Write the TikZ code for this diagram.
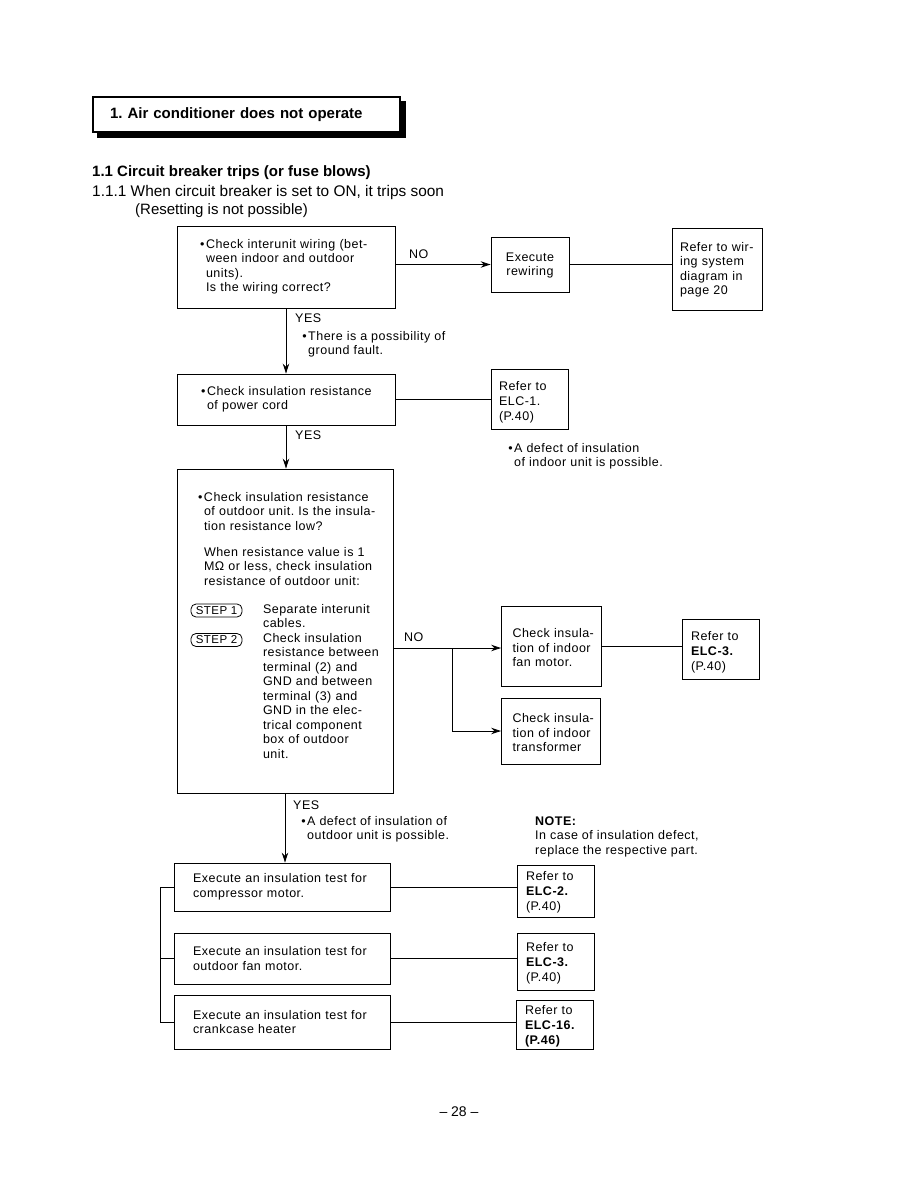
\documentclass[tikz,border=0pt]{standalone}
\usepackage{fontspec}
\setmainfont{Liberation Sans}
\newfontfamily\bodyfont[LetterSpace=4]{Liberation Sans}
\usetikzlibrary{arrows.meta,backgrounds}
\newcommand\bul{\llap{\textbullet\hspace{1.5pt}}}
\frenchspacing
\begin{document}
\begin{tikzpicture}[x=1pt,y=-1pt,
  box/.style={draw, line width=0.9pt, align=left, inner ysep=0pt, inner xsep=1pt,
    font=\bodyfont\fontsize{12.5}{14.5}\selectfont},
  bx/.style n args={3}{minimum width=#1pt, minimum height=#2pt, text width=#1pt-2pt,
    execute at begin node={\leftskip=#3pt\relax}},
  refbox/.style={font=\bodyfont\fontsize{12.5}{15}\selectfont},
  lbl/.style={inner sep=0pt, align=left, font=\bodyfont\fontsize{12.5}{14.5}\selectfont},
  stepbox/.style={draw, line width=0.8pt, rounded corners=5pt, minimum width=51pt,
    minimum height=13pt, inner sep=0pt, font=\bodyfont\fontsize{11.5}{12}\selectfont},
  link/.style={line width=0.8pt},
  arr/.style={line width=0.8pt, -{Stealth[length=10pt,width=6.5pt]}}]
\useasboundingbox (0,0) rectangle (918,1188);

% title
\node[draw, line width=1.2pt, fill=white, minimum width=307pt, minimum height=35pt,
  text width=273pt, inner xsep=17pt, align=left,
  font=\fontsize{15}{18}\selectfont\bfseries] (title) at (246.5,114.5)
  {1.\ Air conditioner does not operate};
\begin{scope}[on background layer]
\fill ([shift={(5,5)}]title.south west) rectangle ([shift={(5,5)}]title.north east);
\end{scope}

\node[anchor=west, inner sep=0pt, font=\fontsize{15}{17}\selectfont\bfseries] (h1) at (92,173)
  {1.1\ Circuit breaker trips (or fuse blows)};
\node[anchor=west, inner sep=0pt, font=\fontsize{15.4}{17}\selectfont] (h2) at (92,193)
  {1.1.1 When circuit breaker is set to ON, it trips soon};
\node[anchor=west, inner sep=0pt, font=\fontsize{15}{17}\selectfont] (h3) at (135,211)
  {(Resetting is not possible)};

% row 1
\node[box, bx={218}{82}{28}] (wiring) at (286,267)
  {\bul Check interunit wiring (bet-\\ween indoor and outdoor\\units).\\Is the wiring correct?};
\node[box, align=center, minimum width=78pt, minimum height=55pt, text width=76pt, text height=10.5pt] (rewire) at (530,264.5)
  {Execute\\rewiring};
\node[box, bx={90}{82}{7}, text height=10.5pt] (refwiring) at (717,269)
  {Refer to wir-\\ing system\\diagram in\\page 20};
\node[lbl, anchor=west] (no1) at (409,254) {NO};
\draw[arr] (wiring.east |- rewire.west) -- (rewire.west);
\draw[link] (rewire.east) -- (rewire.east -| refwiring.west);

% row 2
\node[box, bx={218}{51}{29}] (cord) at (286,399.5)
  {\bul Check insulation resistance\\of power cord};
\node[box, refbox, bx={77}{60}{7}, text height=16.5pt] (elc1) at (529.5,399)
  {Refer to\\ELC-1.\\(P.40)};
\draw[arr] (wiring.south) -- (cord.north);
\node[lbl, anchor=west] (yes1) at (295,318) {YES};
\node[lbl, anchor=west] (ground) at (308,344.5) {\bul There is a possibility of\\ground fault.};
\draw[link] (cord.east) -- (cord.east -| elc1.west);
\node[lbl, anchor=west] (indoordef) at (514,456.5) {\bul A defect of insulation\\of indoor unit is possible.};

% row 3
\node[box, bx={216}{324}{26}] (outdoor) at (285,631)
  {\bul Check insulation resistance\\
   of outdoor unit. Is the insula-\\
   tion resistance low?\\[11.5pt]
   When resistance value is 1\\
   MΩ or less, check insulation\\
   resistance of outdoor unit:\\[13.5pt]
   \hspace*{59pt}Separate interunit\\
   \hspace*{59pt}cables.\\
   \hspace*{59pt}Check insulation\\
   \hspace*{59pt}resistance between\\
   \hspace*{59pt}terminal (2) and\\
   \hspace*{59pt}GND and between\\
   \hspace*{59pt}terminal (3) and\\
   \hspace*{59pt}GND in the elec-\\
   \hspace*{59pt}trical component\\
   \hspace*{59pt}box of outdoor\\
   \hspace*{59pt}unit.\\[-2.5pt]\mbox{}};
\node[stepbox] (step1) at (216.5,610.5) {STEP 1};
\node[stepbox] (step2) at (216.5,640) {STEP 2};
\draw[arr] (cord.south) -- (cord.south |- outdoor.north);
\node[lbl, anchor=west] (yes2) at (295,435) {YES};

\node[box, bx={100}{80}{10}, text height=13pt] (fanmotor) at (551.5,646)
  {Check insula-\\tion of indoor\\fan motor.};
\node[box, bx={99}{66}{10}, text height=13pt] (transformer) at (551,731)
  {Check insula-\\tion of indoor\\transformer};
\node[box, refbox, bx={77}{60}{8}, text height=15.5pt] (elc3a) at (720.5,649)
  {Refer to\\\textbf{ELC-3.}\\(P.40)};
\coordinate (nojunc) at (452,648);
\node[lbl, anchor=west] (no2) at (404,637) {NO};
\draw[link] (outdoor.east |- nojunc) -- (nojunc);
\draw[arr] (nojunc) -- (nojunc -| fanmotor.west);
\draw[arr] (nojunc) |- (transformer.west);
\draw[link] (fanmotor.east) -- (fanmotor.east -| elc3a.west);

% row 4
\node[box, bx={216}{48}{18}] (comp) at (282,887)
  {Execute an insulation test for\\compressor motor.};
\node[box, bx={216}{51}{18}] (ofan) at (282,958.5)
  {Execute an insulation test for\\outdoor fan motor.};
\node[box, bx={216}{54}{18}] (heater) at (282,1022)
  {Execute an insulation test for\\crankcase heater};
\node[box, refbox, bx={77}{52}{8}, text height=12pt] (elc2) at (555.5,891)
  {Refer to\\\textbf{ELC-2.}\\(P.40)};
\node[box, refbox, bx={77}{57}{8}, text height=12.5pt] (elc3b) at (555.5,961.5)
  {Refer to\\\textbf{ELC-3.}\\(P.40)};
\node[box, refbox, bx={77}{49}{8}, text height=12.5pt] (elc16) at (554.5,1024.5)
  {Refer to\\\textbf{ELC-16.}\\\textbf{(P.46)}};
\draw[arr] (outdoor.south) -- (outdoor.south |- comp.north);
\node[lbl, anchor=west] (yes3) at (293,805) {YES};
\node[lbl, anchor=west] (outdef) at (307,829.5) {\bul A defect of insulation of\\outdoor unit is possible.};
\node[lbl, anchor=west] (note) at (535,836.5) {\textbf{NOTE:}\\In case of insulation defect,\\replace the respective part.};
\draw[link] (comp.east) -- (comp.east -| elc2.west);
\draw[link] (ofan.east) -- (ofan.east -| elc3b.west);
\draw[link] (heater.east) -- (heater.east -| elc16.west);
\draw[link] (comp.west) -- ++(-13,0) |- (heater.west);
\draw[link] (ofan.west) -- ++(-13,0);

\node[font=\fontsize{14}{16}\selectfont] (page) at (459,1112) {-- 28 --};
\end{tikzpicture}
\end{document}
